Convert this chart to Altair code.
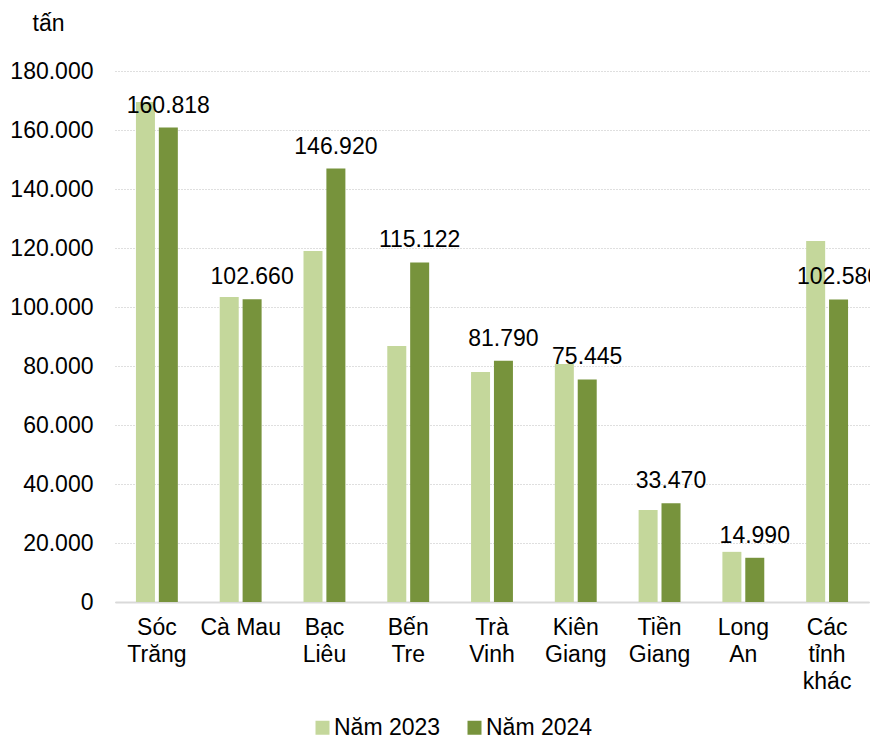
import altair as alt
import pandas as pd

categories = ["Sóc Trăng", "Cà Mau", "Bạc Liêu", "Bến Tre", "Trà Vinh",
              "Kiên Giang", "Tiền Giang", "Long An", "Các tỉnh khác"]
series = ["Năm 2023", "Năm 2024"]
values_2023 = [169500, 103400, 119000, 86800, 78000, 80700, 31200, 17000, 122400]
values_2024 = [160818, 102660, 146920, 115122, 81790, 75445, 33470, 14990, 102580]
y_ticks = [0, 20000, 40000, 60000, 80000, 100000, 120000, 140000, 160000, 180000]
colors = ["#c4d79b", "#77933c"]

rows = []
for c, a, b in zip(categories, values_2023, values_2024):
    rows.append({"cat": c, "year": series[0], "value": a})
    rows.append({"cat": c, "year": series[1], "value": b})
df = pd.DataFrame(rows)
df["label"] = df["value"].map(lambda v: f"{v:,}".replace(",", "."))

FONT = "Liberation Sans"
FS = 23

x_enc = alt.X("cat:N", sort=categories,
              scale=alt.Scale(paddingInner=0.5, paddingOuter=0.25),
              axis=alt.Axis(title=None, labelAngle=0, labelFontSize=FS, labelFont=FONT,
                            labelColor="#000000", labelBaseline="top", labelPadding=14,
                            labelLineHeight=27, ticks=False, domainColor="#d9d9d9",
                            domainWidth=2, grid=False,
                            labelExpr="datum.value == 'Cà Mau' ? datum.value : split(datum.value, ' ')"))
xoff_enc = alt.XOffset("year:N", sort=series,
                       scale=alt.Scale(domain=series, paddingInner=0.17, paddingOuter=0))
y_enc = alt.Y("value:Q",
              scale=alt.Scale(domain=[0, 180000], nice=False),
              axis=alt.Axis(values=y_ticks, title="tấn", titleAngle=0, titleX=-67, titleY=-41,
                            titleAlign="center", titleBaseline="alphabetic", titleFontSize=FS,
                            titleFont=FONT, titleFontWeight="normal", titleColor="#000000",
                            labelFontSize=FS, labelFont=FONT, labelColor="#000000",
                            labelPadding=22, ticks=False, domain=False,
                            gridDash=[1, 2], gridColor="#bfbfbf", gridWidth=1,
                            labelExpr="replace(format(datum.value, ','), ',', '.')"))

bars = alt.Chart(df).mark_bar().encode(
    x=x_enc, xOffset=xoff_enc, y=y_enc,
    color=alt.Color("year:N", sort=series,
                    scale=alt.Scale(domain=series, range=colors),
                    legend=alt.Legend(title=None, orient="none", legendX=196, legendY=645,
                                      direction="horizontal", symbolType="square",
                                      symbolSize=196, symbolStrokeWidth=0, padding=0,
                                      labelFontSize=FS, labelFont=FONT, labelColor="#000000",
                                      labelOffset=0, columnPadding=22))
)

labels = alt.Chart(df).transform_filter(alt.datum.year == series[1]).mark_text(
    fontSize=FS, font=FONT, color="#000000", baseline="alphabetic", dy=-15
).encode(x=x_enc, xOffset=xoff_enc, y=y_enc, text="label:N")

chart = (bars + labels).properties(
    width=754, height=531,
    autosize=alt.AutoSizeParams(type="none"),
    padding={"left": 107, "top": 63, "right": 1, "bottom": 139},
).configure(background="white").configure_view(stroke=None)

chart.save("out.html", embed_options={"renderer": "svg", "actions": False})
